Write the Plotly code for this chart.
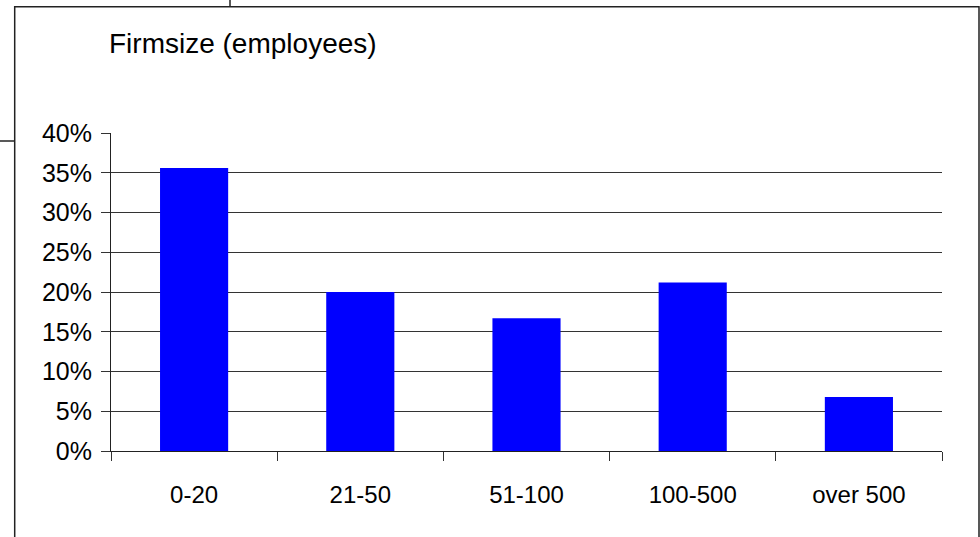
import plotly.graph_objects as go

categories = ["0-20", "21-50", "51-100", "100-500", "over 500"]
shares = [0.356, 0.200, 0.167, 0.212, 0.068]
y_ticks = [0, 0.05, 0.10, 0.15, 0.20, 0.25, 0.30, 0.35, 0.40]
y_tick_labels = ["0%", "5%", "10%", "15%", "20%", "25%", "30%", "35%", "40%"]
title_text = "Firmsize (employees)"

W, H = 980, 537
fig = go.Figure(go.Bar(x=categories, y=shares, marker=dict(color="#0000FF", line=dict(width=0)),
                       hoverinfo="x+y"))

fig.update_layout(
    width=W, height=H,
    margin=dict(l=111, r=38, t=133, b=86),
    paper_bgcolor="white", plot_bgcolor="white",
    bargap=0.59,
    showlegend=False,
    font=dict(family="Liberation Sans, Arial, sans-serif", color="black"),
    title=dict(text=title_text, xref="container", yref="container",
               x=109 / W, xanchor="left", y=1 - 43 / H, yanchor="middle",
               font=dict(size=28, color="black")),
)
fig.update_xaxes(
    type="category", tickson="boundaries", ticks="outside", ticklen=9, tickwidth=1,
    tickcolor="#333", showline=True, linecolor="#222", linewidth=1,
    showgrid=False, tickfont=dict(size=24), ticklabelstandoff=22,
)
fig.update_yaxes(
    range=[0, 0.4], tickvals=y_ticks, ticktext=y_tick_labels,
    ticks="outside", ticklen=9, tickwidth=1, tickcolor="#333",
    showline=True, linecolor="#222", linewidth=1,
    showgrid=True, gridcolor="#333", gridwidth=1, zeroline=False,
    tickfont=dict(size=25), ticklabelstandoff=4,
)

# outer chart border and neighbouring sheet lines
border = dict(color="#222", width=1.5)
fig.add_shape(type="rect", xref="paper", yref="paper",
              x0=(14.7 - 111) / 831, x1=(979 - 111) / 831,
              y0=(451 - 560) / 318, y1=(451 - 6.7) / 318, line=border)
fig.add_shape(type="line", xref="paper", yref="paper",
              x0=(230 - 111) / 831, x1=(230 - 111) / 831,
              y0=(451 + 2) / 318, y1=(451 - 6.7) / 318, line=border)
fig.add_shape(type="line", xref="paper", yref="paper",
              x0=(-2 - 111) / 831, x1=(14.7 - 111) / 831,
              y0=(451 - 141) / 318, y1=(451 - 141) / 318, line=border)

fig.write_html("out.html", config={"displayModeBar": False},
               post_script="document.body.style.margin='0px';document.body.style.overflow='hidden';")
